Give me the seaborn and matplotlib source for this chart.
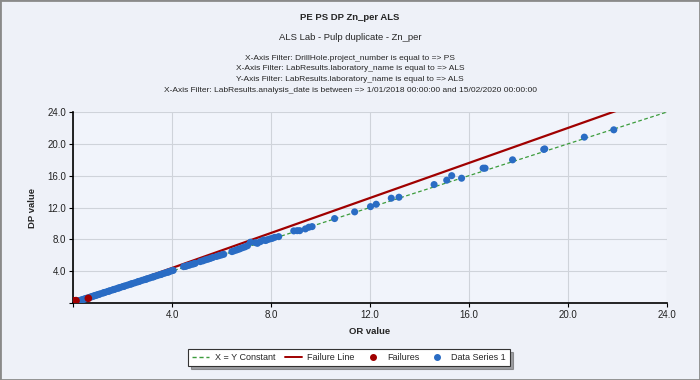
import numpy as np
import pandas as pd
import matplotlib
matplotlib.use("Agg")
import matplotlib.pyplot as plt
import seaborn as sns
from matplotlib.lines import Line2D
from matplotlib.patches import Rectangle

# ---------------- data ----------------
data_x = [0.05, 0.1, 0.15, 0.2, 0.25, 0.3, 0.35, 0.4, 0.45, 0.5, 0.55, 0.6, 0.7, 0.75, 0.8,
          0.85, 0.9, 0.95, 1.0, 1.05, 1.1, 1.2, 1.25, 1.3, 1.4, 1.45, 1.5, 1.6, 1.65, 1.7,
          1.8, 1.85, 1.9, 2.0, 2.05, 2.1, 2.2, 2.3, 2.35, 2.4, 2.5, 2.6, 2.65, 2.7, 2.8,
          2.9, 2.95, 3.0, 3.1, 3.2, 3.25, 3.3, 3.4, 3.5, 3.55, 3.6, 3.7, 3.8, 3.85, 3.9, 4.0,
          4.05, 4.47, 4.55, 4.62, 4.7, 4.8, 4.88, 4.94, 5.14, 5.25, 5.35, 5.45, 5.55, 5.65,
          5.8, 5.9, 6.0, 6.09, 6.42, 6.5, 6.6, 6.68, 6.75, 6.85, 6.95, 7.05, 7.17, 7.37,
          7.45, 7.57, 7.7, 7.78, 7.85, 7.95, 8.05, 8.15, 8.31,
          8.92, 9.06, 9.16, 9.39, 9.53, 9.66, 10.57, 11.38, 12.02, 12.25, 12.86, 13.17,
          14.59, 15.10, 15.30, 15.70, 16.57, 16.65, 17.76, 19.02, 19.06, 20.66, 21.85]
data_y = [0.08, 0.12, 0.2, 0.22, 0.3, 0.33, 0.4, 0.42, 0.5, 0.53, 0.6, 0.62, 0.74, 0.78, 0.85,
          0.88, 0.95, 0.98, 1.05, 1.08, 1.15, 1.24, 1.3, 1.34, 1.45, 1.48, 1.55, 1.64, 1.7, 1.74,
          1.85, 1.88, 1.95, 2.05, 2.08, 2.15, 2.24, 2.35, 2.38, 2.45, 2.54, 2.64, 2.7, 2.74, 2.85,
          2.94, 2.98, 3.05, 3.14, 3.25, 3.28, 3.35, 3.44, 3.55, 3.58, 3.65, 3.74, 3.85, 3.88, 3.95, 4.06,
          4.1, 4.57, 4.6, 4.7, 4.75, 4.86, 4.92, 4.99, 5.2, 5.3, 5.42, 5.5, 5.6, 5.72,
          5.85, 5.95, 6.04, 6.12, 6.46, 6.55, 6.65, 6.75, 6.82, 6.95, 7.05, 7.2, 7.64, 7.59,
          7.5, 7.71, 7.92, 7.85, 7.95, 8.05, 8.12, 8.25, 8.34,
          9.06, 9.09, 9.09, 9.31, 9.52, 9.60, 10.61, 11.45, 12.11, 12.41, 13.17, 13.29,
          14.88, 15.43, 16.0, 15.68, 16.94, 16.94, 17.99, 19.30, 19.36, 20.84, 21.76]

fail_x = [0.0, 0.02, 0.05, 0.08, 0.1, 0.12, 0.62]
fail_y = [0.15, 0.25, 0.2, 0.28, 0.22, 0.3, 0.59]

line_x = [0.0, 24.0]
xy_y = [0.0, 24.0]
failure_y = [0.0, 26.4]

ticks = [0, 4, 8, 12, 16, 20, 24]
tick_labels = ["", "4.0", "8.0", "12.0", "16.0", "20.0", "24.0"]

title = "PE PS DP Zn_per ALS"
subtitle = "ALS Lab - Pulp duplicate - Zn_per"
filters = ["X-Axis Filter: DrillHole.project_number is equal to => PS",
           "X-Axis Filter: LabResults.laboratory_name is equal to => ALS",
           "Y-Axis Filter: LabResults.laboratory_name is equal to => ALS",
           "X-Axis Filter: LabResults.analysis_date is between => 1/01/2018 00:00:00 and 15/02/2020 00:00:00"]

# ---------------- style ----------------
sns.set_theme(style="white")
plt.rcParams['font.family'] = ['Liberation Sans', 'DejaVu Sans']

BLUE = "#2a6cc4"
RED = "#a00000"
GREEN = "#3c9c3c"

fig = plt.figure(figsize=(7.0, 3.8), dpi=100)
fig.patch.set_facecolor("#eef1f8")
W, H = 700, 380
ax = fig.add_axes([73 / W, 1 - 303 / H, (667 - 73) / W, (303 - 112) / H])
ax.set_facecolor("#f1f4fb")

df_line = pd.DataFrame({"x": line_x, "xy": xy_y, "fail": failure_y})
sns.lineplot(data=df_line, x="x", y="xy", ax=ax, color=GREEN, linestyle=(0, (3, 2)),
             linewidth=0.9, zorder=3)
sns.lineplot(data=df_line, x="x", y="fail", ax=ax, color=RED, linewidth=1.6, zorder=2)

df_data = pd.DataFrame({"x": data_x, "y": data_y})
sns.scatterplot(data=df_data, x="x", y="y", ax=ax, color=BLUE, s=26, edgecolor="none",
                zorder=4)
df_fail = pd.DataFrame({"x": fail_x, "y": fail_y})
sns.scatterplot(data=df_fail, x="x", y="y", ax=ax, color=RED, s=30, edgecolor="none",
                zorder=5)

ax.set_xlim(0, 24)
ax.set_ylim(0, 24)
ax.set_xticks(ticks)
ax.set_xticklabels(tick_labels)
ax.set_yticks(ticks)
ax.set_yticklabels(tick_labels)
ax.tick_params(axis="both", which="both", length=3, width=0.8, color="black",
               labelsize=7, labelcolor="#222222", direction="out", bottom=True, left=True,
               pad=2)
ax.grid(True, color="#cfd3da", linewidth=0.8)
ax.set_axisbelow(True)
for s in ["top", "right"]:
    ax.spines[s].set_visible(False)
for s in ["left", "bottom"]:
    ax.spines[s].set_color("black")
    ax.spines[s].set_linewidth(1.2)

ax.set_xlabel("OR value", fontsize=6.8, fontweight="bold", labelpad=5)
ax.set_ylabel("DP value", fontsize=6.8, fontweight="bold", labelpad=7)

# ---------------- titles ----------------
fig.text(0.5, 1 - 17 / H, title, ha="center", va="center", fontsize=6.8, fontweight="bold")
fig.text(0.5, 1 - 37 / H, subtitle, ha="center", va="center", fontsize=6.8)
for i, t in enumerate(filters):
    fig.text(0.5, 1 - (58 + i * 10.7) / H, t, ha="center", va="center", fontsize=6.0)

# ---------------- legend ----------------
handles = [Line2D([], [], color=GREEN, linestyle=(0, (3, 2)), linewidth=1.0),
           Line2D([], [], color=RED, linewidth=1.4),
           Line2D([], [], color=RED, marker="o", linestyle="none", markersize=4),
           Line2D([], [], color=BLUE, marker="o", linestyle="none", markersize=4)]
labels = ["X = Y Constant", "Failure Line", "Failures", "Data Series 1"]
leg = fig.legend(handles, labels, loc="center", bbox_to_anchor=(349 / W, 1 - 357.5 / H),
                 ncol=4, fontsize=6.5, frameon=True, fancybox=False, shadow=True,
                 handlelength=1.9, columnspacing=1.05, borderpad=0.45, handletextpad=0.6)
leg.get_frame().set_edgecolor("#333333")
leg.get_frame().set_linewidth(0.8)
leg.get_frame().set_facecolor("white")

# figure border
fig.patches.append(Rectangle((0, 0), 1, 1, transform=fig.transFigure, fill=False,
                             edgecolor="#8a8a8a", linewidth=2.0))

fig.savefig("out.png", dpi=100, facecolor=fig.get_facecolor())
